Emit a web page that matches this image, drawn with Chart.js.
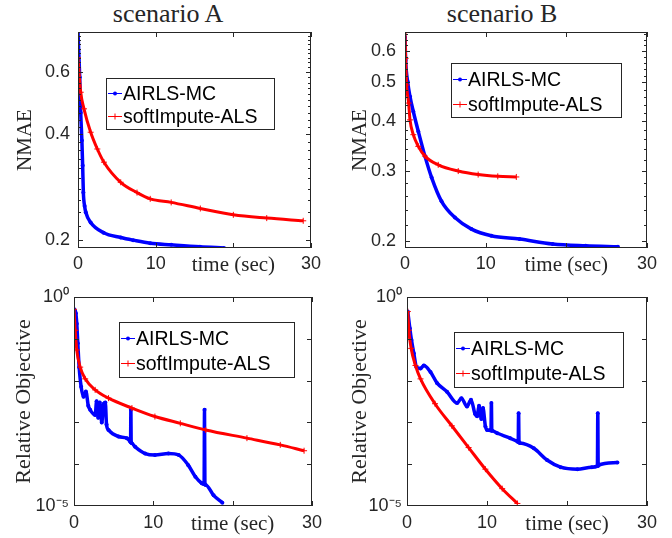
<!DOCTYPE html>
<html>
<head>
<meta charset="utf-8">
<script src="https://cdn.jsdelivr.net/npm/chart.js@4.4.1/dist/chart.umd.min.js"></script>
<style>
  html, body { margin: 0; padding: 0; background: #fff; }
  #page { position: relative; width: 672px; height: 538px; overflow: hidden; }
  .layer { position: absolute; left: 0; top: 0; width: 672px; height: 538px; }
  .ttl { position: absolute; top: 1px; width: 200px; text-align: center; color: #262626;
         font-family: 'Liberation Serif', 'Times New Roman', serif; font-size: 26px; line-height: 25px; }
</style>
</head>
<body>
<div id="page">
  <div class="ttl" style="left:68px">scenario A</div>
  <div class="ttl" style="left:402px">scenario B</div>
  <div class="layer"><canvas id="nmaeA"></canvas></div>
  <div class="layer"><canvas id="nmaeB"></canvas></div>
  <div class="layer"><canvas id="objA"></canvas></div>
  <div class="layer"><canvas id="objB"></canvas></div>
</div>
<script>
// x axis (time in seconds)
const xTicks = [0, 10, 20, 30];
const xTickLabels = ['0', '10', 'time (sec)', '30'];

// scenario A - NMAE
const nmaeA_airlsT = [0, 0.22, 0.35, 0.5, 0.6, 0.69, 0.85, 1.0, 1.63, 3.3, 5.5, 7.1, 9.3, 12, 15.7, 18.8];
const nmaeA_airls  = [0.78, 0.58, 0.46, 0.384, 0.326, 0.273, 0.25, 0.24, 0.2245, 0.21, 0.2035, 0.2, 0.196, 0.194, 0.1915, 0.19];
const nmaeA_softT  = [0, 0.35, 0.77, 1.63, 2.49, 3.34, 5.5, 7.6, 9.3, 12, 15.75, 20, 24.3, 29];
const nmaeA_soft   = [0.659, 0.526, 0.472, 0.405, 0.363, 0.333, 0.292, 0.273, 0.262, 0.256, 0.246, 0.236, 0.231, 0.227];

// scenario B - NMAE
const nmaeB_airlsT = [0, 0.08, 0.33, 0.62, 1.03, 1.65, 2.47, 3.3, 4.53, 6.19, 8.24, 10.7, 14.2, 18.3, 22.4, 26.4];
const nmaeB_airls  = [0.65, 0.569, 0.502, 0.461, 0.423, 0.377, 0.327, 0.289, 0.252, 0.2295, 0.2147, 0.2066, 0.2027, 0.197, 0.195, 0.194];
const nmaeB_softT  = [0, 0.08, 0.2, 0.45, 0.62, 1.03, 1.65, 2.47, 4.12, 6.6, 9.07, 11.5, 13.8];
const nmaeB_soft   = [0.669, 0.575, 0.493, 0.444, 0.403, 0.37, 0.346, 0.327, 0.311, 0.3, 0.294, 0.291, 0.29];

// scenario A - relative objective
const objA_airlsT = [0.03, 0.23, 0.35, 0.48, 0.65, 0.9, 1.2, 1.5, 1.8, 2.04, 2.67, 2.85, 3.05, 3.25, 3.5, 3.75, 3.95, 4.1, 4.35,
                     5.6, 6.66, 7.08, 7.13, 7.17, 7.21, 7.25, 7.71, 8.97, 10.2, 11.9, 13.2, 14.4, 15.3, 16.1, 16.4, 16.45, 16.5, 16.6, 17.6, 18.7];
const objA_airls  = [0.51, 0.41, 0.23, 0.078, 0.021, 0.0071, 0.0041, 0.0055, 0.0025, 0.002, 0.0015, 0.0032, 0.0013, 0.003, 0.001, 0.0028, 0.003, 0.00089, 0.00066,
                     0.00046, 0.00042, 0.00035, 0.00034, 0.002, 0.00033, 0.00032, 0.00026, 0.00018, 0.000166, 0.00018, 0.000166, 0.000095, 0.00005, 0.000035, 0.000033, 0.002, 0.000033, 0.000032, 0.000018, 0.000012];
const objA_softT  = [0, 0.15, 0.35, 0.78, 1.41, 2.67, 4.35, 7.3, 10.2, 13.4, 16.6, 21.8, 26.0, 29.0];
const objA_soft   = [0.51, 0.16, 0.054, 0.021, 0.011, 0.006, 0.0038, 0.0022, 0.00138, 0.00095, 0.00066, 0.00042, 0.00029, 0.00021];

// scenario B - relative objective
const objB_airlsT = [0.1, 0.35, 0.56, 0.85, 1.19, 1.69, 2.1, 2.94, 3.77, 5.0, 6.27, 6.8, 7.5, 8.0, 8.5, 8.77, 9.0, 9.3, 9.5, 9.8, 10.0,
                     10.5, 10.55, 10.6, 10.65, 11.3, 12.9, 13.8, 13.9, 13.95, 14.0, 14.1, 15.85, 17.5, 19.2, 21.3, 23.1, 23.8, 23.85, 23.9, 23.95, 26.3];
const objB_airls  = [0.45, 0.18, 0.093, 0.045, 0.021, 0.0195, 0.023, 0.016, 0.0087, 0.0054, 0.0029, 0.0038, 0.0024, 0.0035, 0.0016, 0.0014, 0.0025, 0.0012, 0.0022, 0.0008, 0.00066,
                     0.00064, 0.0029, 0.00064, 0.00063, 0.00055, 0.00042, 0.00035, 0.00034, 0.00166, 0.00034, 0.00032, 0.00024, 0.000126, 0.000085, 0.000076, 0.000085, 0.00009, 0.00166, 0.000092, 0.000095, 0.00011];
const objB_softT  = [0.1, 0.23, 0.52, 1.06, 1.69, 3.5, 5.6, 7.7, 9.8, 11.9, 13.8];
const objB_soft   = [0.45, 0.16, 0.059, 0.023, 0.011, 0.0028, 0.00083, 0.00025, 0.000076, 0.000026, 0.0000115];

const SANS = "'Liberation Sans', Arial, sans-serif";
const SERIF = "'Liberation Serif', 'Times New Roman', serif";
const INK = '#262626';
const BLUE = '#0000ff';
const RED = '#ff0000';

function pts(ts, vs) {
    return ts.map((t, i) => ({ x: t, y: vs[i] }));
}

// axes box with inward ticks, like the matlab "box on" look
const boxPlugin = {
    id: 'box',
    afterDatasetsDraw(chart, args, o) {
        const { ctx, chartArea: a, scales: { x, y } } = chart;
        ctx.save();
        ctx.strokeStyle = INK;
        ctx.lineWidth = 1;
        ctx.beginPath();
        xTicks.forEach(v => {
            const px = Math.round(x.getPixelForValue(v)) + 0.5;
            ctx.moveTo(px, a.bottom); ctx.lineTo(px, a.bottom - 5);
            ctx.moveTo(px, a.top); ctx.lineTo(px, a.top + 5);
        });
        const yTick = (v, len) => {
            const py = Math.round(y.getPixelForValue(v)) + 0.5;
            if (py < a.top || py > a.bottom) return;
            ctx.moveTo(a.left, py); ctx.lineTo(a.left + len, py);
            ctx.moveTo(a.right, py); ctx.lineTo(a.right - len, py);
        };
        o.minor.forEach(v => yTick(v, 3));
        o.major.forEach(v => yTick(v, 5));
        ctx.stroke();
        ctx.strokeRect(Math.round(a.left) + 0.5, Math.round(a.top) + 0.5, Math.round(a.width) - 1, Math.round(a.height) - 1);
        ctx.restore();
    }
};

// legend box placed inside the axes
const legendPlugin = {
    id: 'boxLegend',
    afterDraw(chart, args, o) {
        const { ctx, chartArea: a } = chart;
        const bx = Math.round(a.left + o.dx), by = Math.round(a.top + o.dy);
        ctx.save();
        ctx.fillStyle = '#fff';
        ctx.fillRect(bx, by, o.w, o.h);
        ctx.strokeStyle = INK;
        ctx.lineWidth = 1;
        ctx.strokeRect(bx + 0.5, by + 0.5, o.w, o.h);
        ctx.font = '19.5px ' + SANS;
        ctx.textBaseline = 'middle';
        ctx.textAlign = 'left';
        chart.data.datasets.forEach((ds, i) => {
            const yy = Math.round(by + o.h * (i ? 0.75 : 0.29)) + 0.5;
            const x0 = bx + 2, x1 = bx + 16, xm = (x0 + x1) / 2;
            ctx.strokeStyle = ds.borderColor;
            ctx.fillStyle = ds.borderColor;
            ctx.lineWidth = 1;
            ctx.beginPath();
            ctx.moveTo(x0, yy); ctx.lineTo(x1, yy);
            if (ds.pointStyle === 'cross') {
                ctx.moveTo(xm, yy - 3); ctx.lineTo(xm, yy + 3);
            }
            ctx.stroke();
            if (ds.pointStyle === 'circle') {
                ctx.beginPath();
                ctx.arc(xm, yy, 2, 0, Math.PI * 2);
                ctx.fill();
            }
            ctx.fillStyle = '#000';
            ctx.fillText(ds.label, x1 + 1, yy + 1);
        });
        ctx.restore();
    }
};

function makePanel(id, p) {
    const xH = 40;
    new Chart(document.getElementById(id), {
        type: 'line',
        data: {
            datasets: [
                {
                    label: 'AIRLS-MC', data: pts(p.blueT, p.blue), order: 1,
                    borderColor: BLUE, backgroundColor: BLUE, borderWidth: 3.5,
                    pointStyle: 'circle', pointRadius: 2, pointBorderWidth: 0,
                    cubicInterpolationMode: 'monotone'
                },
                {
                    label: 'softImpute-ALS', data: pts(p.redT, p.red), order: 0,
                    borderColor: RED, backgroundColor: RED, borderWidth: 3,
                    pointStyle: 'cross', pointRadius: 3, pointBorderWidth: 1,
                    cubicInterpolationMode: 'monotone'
                }
            ]
        },
        options: {
            responsive: true,
            maintainAspectRatio: false,
            animation: false,
            events: [],
            layout: {
                padding: { left: p.padLeft, top: p.area.top, right: 672 - p.area.right, bottom: 538 - p.area.bottom - xH }
            },
            plugins: {
                legend: { display: false },
                tooltip: { enabled: false },
                box: { major: p.yTicks, minor: p.yMinor },
                boxLegend: p.legend
            },
            scales: {
                x: {
                    type: 'linear', min: 0, max: 30,
                    afterBuildTicks: s => { s.ticks = xTicks.map(v => ({ value: v })); },
                    afterFit: s => { s.height = xH; },
                    grid: { display: false, drawTicks: false },
                    border: { display: false },
                    ticks: {
                        autoSkip: false, maxRotation: 0, padding: p.xPad, color: INK,
                        callback: (v, i) => xTickLabels[i],
                        font: c => (c.tick && c.tick.value === 20) ? { family: SERIF, size: 21 } : { family: SANS, size: 18 }
                    }
                },
                y: {
                    type: 'logarithmic', min: p.yMin, max: p.yMax,
                    afterBuildTicks: s => { s.ticks = p.yTicks.map(v => ({ value: v })); },
                    afterFit: s => { s.width = p.area.left - p.padLeft; },
                    grid: { display: false, drawTicks: false },
                    border: { display: false },
                    ticks: {
                        autoSkip: false, padding: p.yPad, color: INK,
                        callback: (v, i) => p.yLabels[i],
                        font: { family: SANS, size: 18 }
                    },
                    title: {
                        display: true, text: p.yTitle, color: INK,
                        font: { family: SERIF, size: p.yTitleSize },
                        padding: { top: p.yTitlePad, bottom: 0 }
                    }
                }
            }
        },
        plugins: [boxPlugin, legendPlugin]
    });
}

const nmaeMinor = [];
for (let v = 20; v <= 78; v += 2) nmaeMinor.push(v / 100);
const decades = [1e-5, 1e-4, 1e-3, 1e-2, 1e-1, 1];

makePanel('nmaeA', {
    area: { left: 78, top: 32, right: 311, bottom: 248 }, padLeft: 0,
    blueT: nmaeA_airlsT, blue: nmaeA_airls, redT: nmaeA_softT, red: nmaeA_soft,
    yMin: 0.19, yMax: 0.78, yTicks: [0.2, 0.4, 0.6], yLabels: ['0.2', '0.4', '0.6'], yMinor: nmaeMinor,
    yTitle: 'NMAE', yTitleSize: 21, yTitlePad: 13, yPad: 8, xPad: 5,
    legend: { dx: 28, dy: 46, w: 168, h: 51 }
});
makePanel('nmaeB', {
    area: { left: 405, top: 32, right: 647, bottom: 248 }, padLeft: 336,
    blueT: nmaeB_airlsT, blue: nmaeB_airls, redT: nmaeB_softT, red: nmaeB_soft,
    yMin: 0.1925, yMax: 0.669, yTicks: [0.2, 0.3, 0.4, 0.5, 0.6], yLabels: ['0.2', '0.3', '0.4', '0.5', '0.6'], yMinor: nmaeMinor,
    yTitle: 'NMAE', yTitleSize: 21, yTitlePad: 12, yPad: 9, xPad: 5,
    legend: { dx: 46, dy: 31, w: 170, h: 54 }
});
makePanel('objA', {
    area: { left: 74, top: 297, right: 312, bottom: 506 }, padLeft: 0,
    blueT: objA_airlsT, blue: objA_airls, redT: objA_softT, red: objA_soft,
    yMin: 1e-5, yMax: 1, yTicks: decades, yLabels: ['10\u207B\u2075', '', '', '', '', '10\u2070'], yMinor: [],
    yTitle: 'Relative Objective', yTitleSize: 22, yTitlePad: 11, yPad: 5, xPad: 6,
    legend: { dx: 45, dy: 25, w: 175, h: 55 }
});
makePanel('objB', {
    area: { left: 407, top: 297, right: 647, bottom: 506 }, padLeft: 336,
    blueT: objB_airlsT, blue: objB_airls, redT: objB_softT, red: objB_soft,
    yMin: 1e-5, yMax: 1, yTicks: decades, yLabels: ['10\u207B\u2075', '', '', '', '', '10\u2070'], yMinor: [],
    yTitle: 'Relative Objective', yTitleSize: 22, yTitlePad: 11, yPad: 5, xPad: 6,
    legend: { dx: 47, dy: 35, w: 169, h: 55 }
});
</script>
</body>
</html>
